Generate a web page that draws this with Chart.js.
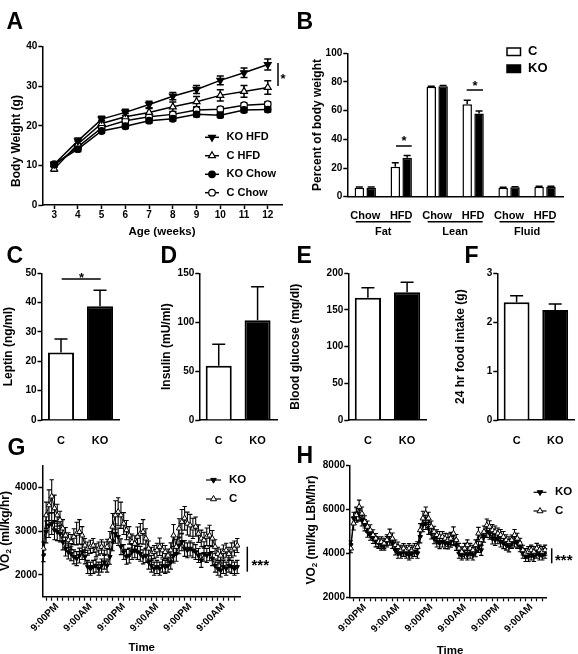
<!DOCTYPE html>
<html><head><meta charset="utf-8">
<script src="https://cdn.jsdelivr.net/npm/chart.js"></script>
<style>
html,body{margin:0;padding:0;background:#fff;}
#wrap{position:relative;width:578px;height:654px;overflow:hidden;background:#fff;}
canvas{position:absolute;left:0;top:0;}
</style></head><body><div id="wrap">
<canvas id="cA" width="578" height="654"></canvas>
<canvas id="cB" width="578" height="654"></canvas>
<canvas id="cC" width="578" height="654"></canvas>
<canvas id="cD" width="578" height="654"></canvas>
<canvas id="cE" width="578" height="654"></canvas>
<canvas id="cF" width="578" height="654"></canvas>
<canvas id="cG" width="578" height="654"></canvas>
<canvas id="cH" width="578" height="654"></canvas>
</div>
<script>
// ---------- DATA ----------
// Panel A: body weight (g)
const weeks = [3,4,5,6,7,8,9,10,11,12];
const koHfd     = [10.3,16.2,21.7,23.4,25.4,27.5,29.2,31.5,33.4,35.5];
const koHfdErr  = [0.6,0.7,0.7,0.8,0.8,0.9,1.0,1.1,1.2,1.4];
const cHfd      = [9.1,15.4,20.6,22.3,23.4,24.8,26.1,27.7,28.7,29.7];
const cHfdErr   = [0.6,0.8,0.8,0.9,1.0,1.2,1.3,1.4,1.5,1.7];
const koChow    = [10.3,14.1,18.7,19.9,21.3,21.8,22.9,22.7,24.0,24.1];
const koChowErr = [0.5,0.6,0.6,0.6,0.6,0.6,0.6,0.6,0.6,0.6];
const cChow     = [10.1,14.7,19.5,21.3,22.3,22.9,24.0,24.2,25.2,25.5];
const cChowErr  = [0.5,0.6,0.6,0.6,0.6,0.6,0.6,0.6,0.6,0.6];
const weekTicks = [3,4,5,6,7,8,9,10,11,12];

// Panel B: body composition (% body weight)
const compCats   = ['Chow','HFD','Chow','HFD','Chow','HFD'];
const compGroups = ['Fat','Lean','Fluid'];
const compC      = [6.3,20.9,76.7,64.4,6.3,7.0];
const compCErr   = [0.4,2.8,0.4,2.8,0.3,0.3];
const compKO     = [6.3,27.2,77.0,58.1,6.6,7.0];
const compKOErr  = [0.4,1.6,0.5,1.6,0.3,0.3];

// Panels C-F
const genotypes  = ['C','KO'];
const leptin     = [23.0,38.8];  const leptinErr  = [4.6,5.4];
const insulin    = [55.5,102.0]; const insulinErr = [21.9,34.2];
const glucose    = [166.7,174.0]; const glucoseErr = [13.6,13.7];
const food       = [2.41,2.25];  const foodErr    = [0.13,0.12];

// Panels G-H: hourly VO2
const hours = Array.from({length:71},(_,i)=>i); // hour index, 0 = 4:00PM
const timeLabels = {5:'9:00PM',17:'9:00AM',29:'9:00PM',41:'9:00AM',53:'9:00PM',65:'9:00AM'};
const vo2C = [2600,3360,3590,3790,3520,3360,3250,3060,2900,2790,
  2750,2870,2940,2980,2900,2670,2600,2640,2670,2560,
  2600,2640,2600,2640,2790,3100,3360,3440,3360,3170,
  3020,2900,2750,2710,2870,2940,2980,2830,2600,2480,
  2520,2560,2640,2560,2520,2440,2560,2900,2640,3060,
  3210,3290,3170,3130,3060,3100,2940,2830,2790,2870,
  2900,2830,2640,2480,2440,2520,2560,2480,2560,2600,2670];
const vo2CErr = [150,300,350,380,300,250,200,200,180,170,
  170,180,260,280,200,160,150,150,160,150,
  150,160,150,170,200,300,330,320,300,250,
  220,200,180,180,220,230,280,220,170,150,
  150,160,200,160,150,150,170,250,170,220,
  280,270,260,250,230,220,200,190,180,200,
  230,180,160,150,150,160,160,150,170,170,160];
const vo2KO = [2450,2980,3130,3170,3020,2980,2940,2750,2600,2520,
  2480,2410,2370,2440,2520,2410,2180,2140,2180,2210,
  2140,2210,2290,2210,2410,2750,2940,2870,2640,2520,
  2410,2440,2520,2560,2520,2480,2410,2440,2290,2210,
  2140,2180,2140,2210,2180,2210,2290,2440,2480,2670,
  2750,2600,2560,2600,2560,2520,2440,2330,2480,2440,
  2480,2370,2210,2140,2100,2180,2140,2210,2180,2140,2180];
const vo2KOErr = [150,250,280,250,220,200,190,180,170,160,
  160,160,160,170,170,160,150,150,150,150,
  150,150,160,150,170,200,220,200,180,170,
  170,170,170,170,170,170,160,160,160,150,
  150,150,150,150,150,150,160,170,170,190,
  200,180,170,170,170,170,160,160,170,160,
  160,160,150,150,150,150,150,150,150,150,150];
const lbmC = [4230,5370,5750,6130,5820,5440,5220,5060,4840,4680,
  4530,4530,4460,4610,4840,4680,4380,4300,4150,4230,
  4150,4230,4150,4230,4300,5060,5600,5820,5600,5220,
  4990,4840,4760,4760,4680,4610,4680,4910,4610,4230,
  4080,4230,4380,4230,4150,4380,4910,4610,4990,5290,
  5220,5060,4990,4910,4840,4760,4610,4530,4610,4840,
  4680,4460,4150,4000,4080,4150,4080,4230,4150,4080,4150];
const lbmCErr = [200,300,330,300,300,280,260,250,240,230,
  230,230,230,240,270,250,230,220,220,220,
  220,220,220,220,230,300,320,300,280,260,
  250,240,240,240,240,280,280,300,250,230,
  220,230,240,230,220,240,280,250,260,280,
  270,260,260,250,250,240,240,230,230,250,
  240,230,220,220,230,230,230,230,230,230,230];
const lbmKO = [4380,5600,5820,5750,5520,5290,4990,4840,4680,4530,
  4460,4380,4380,4530,4610,4460,4150,4000,4000,4080,
  4000,3920,4000,4080,4000,4760,5290,5370,5140,4910,
  4680,4530,4460,4530,4460,4460,4530,4610,4380,4000,
  3920,4000,3920,4000,3920,4080,4300,4150,4760,4990,
  4910,4680,4610,4680,4530,4460,4380,4300,4460,4530,
  4460,4300,4000,3850,3850,3920,3850,4000,3920,3920,4000];
const lbmKOErr = [200,280,300,280,270,260,250,240,230,230,
  230,230,230,240,240,230,220,220,220,220,
  220,220,220,220,220,280,300,280,270,250,
  240,240,240,240,240,250,250,260,240,220,
  220,220,220,220,220,230,250,240,250,260,
  260,250,250,240,240,240,230,230,230,240,
  230,220,220,220,220,220,220,220,220,220,220];

// ---------- HELPERS ----------
const FONT = "'Liberation Sans', Arial, Helvetica, sans-serif";
Chart.defaults.font.family = FONT;
Chart.defaults.font.weight = 'bold';
Chart.defaults.color = '#000';
Chart.defaults.animation = false;
Chart.defaults.plugins.legend.display = false;
Chart.defaults.plugins.tooltip.enabled = false;

function T(ctx, s, x, y, o) {
  o = o || {};
  ctx.save();
  ctx.font = 'bold ' + (o.size || 12) + 'px ' + FONT;
  ctx.fillStyle = '#000';
  ctx.textAlign = o.align || 'center';
  ctx.textBaseline = o.base || 'middle';
  ctx.translate(x, y);
  if (o.rot) ctx.rotate(o.rot);
  ctx.fillText(s, 0, 0);
  ctx.restore();
}
function rich(ctx, parts, x, y, rot) {
  ctx.save();
  ctx.translate(x, y);
  if (rot) ctx.rotate(rot);
  ctx.fillStyle = '#000';
  ctx.textBaseline = 'middle';
  ctx.textAlign = 'left';
  let w = 0;
  parts.forEach(p => { ctx.font = 'bold ' + p.size + 'px ' + FONT; p.w = ctx.measureText(p.t).width; w += p.w; });
  let cx = -w / 2;
  parts.forEach(p => { ctx.font = 'bold ' + p.size + 'px ' + FONT; ctx.fillText(p.t, cx, p.dy || 0); cx += p.w; });
  ctx.restore();
}
function L(ctx, x1, y1, x2, y2, w) {
  ctx.save(); ctx.strokeStyle = '#000'; ctx.lineWidth = w || 1.5;
  ctx.beginPath(); ctx.moveTo(x1, y1); ctx.lineTo(x2, y2); ctx.stroke(); ctx.restore();
}
function mark(ctx, style, x, y, r, fill, rot, bw) {
  ctx.save(); ctx.beginPath();
  if (style === 'circle') ctx.arc(x, y, r, 0, 2 * Math.PI);
  else {
    let a = (rot || 0) * Math.PI / 180;
    for (let k = 0; k < 3; k++) {
      const px = x + Math.sin(a) * r, py = y - Math.cos(a) * r;
      if (k) ctx.lineTo(px, py); else ctx.moveTo(px, py);
      a += 2 * Math.PI / 3;
    }
    ctx.closePath();
  }
  ctx.fillStyle = fill; ctx.fill();
  ctx.lineWidth = bw || 1.2; ctx.strokeStyle = '#000'; ctx.stroke();
  ctx.restore();
}
function drawErr(chart) {
  const ctx = chart.ctx;
  chart.data.datasets.forEach((ds, i) => {
    if (!ds.errors) return;
    const meta = chart.getDatasetMeta(i);
    const ys = chart.scales[meta.yAxisID];
    ctx.save(); ctx.strokeStyle = '#000'; ctx.lineWidth = ds.errLineWidth || 1.5;
    ctx.beginPath();
    meta.data.forEach((el, j) => {
      const raw = ds.data[j];
      const v = (typeof raw === 'object') ? raw.y : raw;
      const e = ds.errors[j], x = el.x, cap = ds.errCap || 4;
      const y0 = ys.getPixelForValue(v);
      const dirs = ds.errDir === 'up' ? [1] : [1, -1];
      dirs.forEach(d => {
        const y1 = ys.getPixelForValue(v + d * e);
        ctx.moveTo(x, y0); ctx.lineTo(x, y1);
        ctx.moveTo(x - cap, y1); ctx.lineTo(x + cap, y1);
      });
    });
    ctx.stroke(); ctx.restore();
  });
}
const errorBars = {
  id: 'errorBars',
  beforeDatasetsDraw(chart) { if (chart.config.type === 'line') drawErr(chart); },
  afterDatasetsDraw(chart) { if (chart.config.type !== 'line') drawErr(chart); }
};

const YW = 30, XH = 30, XH_TIME = 52;
function pad(Lx, Rx, Tx, Bx, xh) {
  return { left: Lx - YW, right: 578 - Rx, top: Tx, bottom: 654 - Bx - (xh || XH) };
}
const GRID = { display: true, drawOnChartArea: false, drawTicks: true, tickLength: 4, tickWidth: 1.5, tickColor: '#000', color: '#000' };
const BORDER = { display: true, color: '#000', width: 1.5 };
function yAxis(min, max, ticks) {
  return {
    type: 'linear', min: min, max: max,
    afterBuildTicks: s => { s.ticks = ticks.map(v => ({ value: v })); },
    afterFit: s => { s.width = YW; },
    grid: GRID, border: BORDER,
    ticks: { font: { size: 10, weight: 'bold' }, color: '#000', padding: 1, callback: v => String(v) }
  };
}
function catAxis(padding) {
  return {
    type: 'category', offset: true,
    afterFit: s => { s.height = XH; },
    grid: { display: false }, border: BORDER,
    ticks: { font: { size: 11, weight: 'bold' }, color: '#000', padding: padding }
  };
}
function timeAxis(min, max) {
  const tk = []; for (let h = 1; h <= 69; h += 2) tk.push(h);
  return {
    type: 'linear', min: min, max: max,
    afterBuildTicks: s => { s.ticks = tk.map(v => ({ value: v })); },
    afterFit: s => { s.height = XH_TIME; },
    grid: Object.assign({}, GRID, { tickLength: 4, tickWidth: 1.2 }), border: BORDER,
    ticks: { font: { size: 10, weight: 'bold' }, color: '#000', padding: 0, autoSkip: false,
      minRotation: 45, maxRotation: 45, callback: v => timeLabels[v] || '' }
  };
}
function ov(fn) { return { id: 'ov', afterDraw(chart) { fn(chart.ctx, chart); } }; }
const R90 = -Math.PI / 2;
const LET = 23;

// ---------- A ----------
new Chart(document.getElementById('cA'), {
  type: 'line',
  data: { datasets: [
    { data: weeks.map((w, i) => ({ x: w, y: koHfd[i] })), errors: koHfdErr, errCap: 3.5,
      borderColor: '#000', borderWidth: 1.5, pointStyle: 'triangle', pointRotation: 180, pointRadius: 4,
      pointBackgroundColor: '#000', pointBorderColor: '#000', pointBorderWidth: 1.2 },
    { data: weeks.map((w, i) => ({ x: w, y: cHfd[i] })), errors: cHfdErr, errCap: 3.5,
      borderColor: '#000', borderWidth: 1.5, pointStyle: 'triangle', pointRadius: 4,
      pointBackgroundColor: '#fff', pointBorderColor: '#000', pointBorderWidth: 1.2 },
    { data: weeks.map((w, i) => ({ x: w, y: koChow[i] })), errors: koChowErr, errCap: 3.5,
      borderColor: '#000', borderWidth: 1.5, pointStyle: 'circle', pointRadius: 3.3,
      pointBackgroundColor: '#000', pointBorderColor: '#000', pointBorderWidth: 1.2 },
    { data: weeks.map((w, i) => ({ x: w, y: cChow[i] })), errors: cChowErr, errCap: 3.5,
      borderColor: '#000', borderWidth: 1.5, pointStyle: 'circle', pointRadius: 3.3,
      pointBackgroundColor: '#fff', pointBorderColor: '#000', pointBorderWidth: 1.2 }
  ] },
  options: {
    responsive: false, devicePixelRatio: 1,
    layout: { padding: pad(42.3, 282, 46.7, 205) },
    scales: {
      x: { type: 'linear', min: 2.5, max: 12.6,
        afterBuildTicks: s => { s.ticks = weekTicks.map(v => ({ value: v })); },
        afterFit: s => { s.height = XH; }, grid: GRID, border: BORDER,
        ticks: { font: { size: 10, weight: 'bold' }, color: '#000', padding: 0, callback: v => String(v) } },
      y: yAxis(0, 40, [0, 10, 20, 30, 40])
    }
  },
  plugins: [errorBars, ov((ctx) => {
    T(ctx, 'A', 6.5, 28.5, { size: LET, align: 'left', base: 'alphabetic' });
    T(ctx, 'Body Weight (g)', 17, 141, { rot: R90 });
    T(ctx, 'Age (weeks)', 162, 232, { size: 11.5 });
    const items = [['KO HFD', 'triangle', 180, '#000', 137.3], ['C HFD', 'triangle', 0, '#fff', 155.7],
                   ['KO Chow', 'circle', 0, '#000', 174.3], ['C Chow', 'circle', 0, '#fff', 192.7]];
    items.forEach(it => {
      L(ctx, 205, it[4], 219, it[4], 1.5);
      mark(ctx, it[1], 212, it[4], it[1] === 'circle' ? 3.3 : 4, it[3], it[2]);
      T(ctx, it[0], 226.5, it[4], { size: 11, align: 'left' });
    });
    L(ctx, 278, 63, 278, 86, 1.5);
    T(ctx, '*', 283, 82.5, { size: 13, base: 'alphabetic' });
  })]
});

// ---------- B ----------
new Chart(document.getElementById('cB'), {
  type: 'bar',
  data: { labels: compCats, datasets: [
    { data: compC, errors: compCErr, errDir: 'up', errCap: 3.5, backgroundColor: '#fff', borderColor: '#000', borderWidth: 1.5,
      categoryPercentage: 0.66, barPercentage: 0.8 },
    { data: compKO, errors: compKOErr, errDir: 'up', errCap: 3.5, backgroundColor: '#000', borderColor: '#000', borderWidth: 1.5,
      categoryPercentage: 0.66, barPercentage: 0.8 }
  ] },
  options: {
    responsive: false, devicePixelRatio: 1,
    layout: { padding: pad(347.3, 563, 53.3, 196.7) },
    scales: { x: catAxis(5), y: yAxis(0, 100, [0, 20, 40, 60, 80, 100]) }
  },
  plugins: [errorBars, ov((ctx, chart) => {
    T(ctx, 'B', 296.5, 28.5, { size: LET, align: 'left', base: 'alphabetic' });
    T(ctx, 'Percent of body weight', 318, 125, { rot: R90 });
    const xs = chart.scales.x;
    compGroups.forEach((g, k) => {
      const c = (xs.getPixelForValue(2 * k) + xs.getPixelForValue(2 * k + 1)) / 2;
      L(ctx, c - 27.5, 221.7, c + 27.5, 221.7, 1.5);
      T(ctx, g, c, 232, { size: 11 });
    });
    ctx.save(); ctx.lineWidth = 1.5; ctx.strokeStyle = '#000';
    ctx.fillStyle = '#fff'; ctx.fillRect(507, 48, 13.5, 7.5); ctx.strokeRect(507, 48, 13.5, 7.5);
    ctx.fillStyle = '#000'; ctx.fillRect(507, 65, 13.5, 7.5); ctx.strokeRect(507, 65, 13.5, 7.5);
    ctx.restore();
    T(ctx, 'C', 528, 51.8, { size: 13, align: 'left' });
    T(ctx, 'KO', 528, 68.8, { size: 13, align: 'left' });
    L(ctx, 396, 146, 411.7, 146, 1.5);
    T(ctx, '*', 404, 145, { size: 13, base: 'alphabetic' });
    L(ctx, 466.7, 90, 483, 90, 1.5);
    T(ctx, '*', 475, 89.5, { size: 13, base: 'alphabetic' });
  })]
});

// ---------- C-F ----------
function simpleBar(id, vals, errs, Lx, Rx, yMax, yTicks, extra) {
  return new Chart(document.getElementById(id), {
    type: 'bar',
    data: { labels: genotypes, datasets: [
      { data: vals, errors: errs, errDir: 'up', errCap: 6.5, backgroundColor: ['#fff', '#000'], borderColor: '#000',
        borderWidth: 2, categoryPercentage: 0.67, barPercentage: 1.0 }
    ] },
    options: {
      responsive: false, devicePixelRatio: 1,
      layout: { padding: pad(Lx, Rx, 273.3, 420) },
      scales: { x: catAxis(6), y: yAxis(0, yMax, yTicks) }
    },
    plugins: [errorBars, ov(extra)]
  });
}
simpleBar('cC', leptin, leptinErr, 41.5, 119.5, 50, [0, 10, 20, 30, 40, 50], (ctx) => {
  T(ctx, 'C', 6.5, 263.3, { size: LET, align: 'left', base: 'alphabetic' });
  T(ctx, 'Leptin (ng/ml)', 9, 346.7, { rot: R90 });
  L(ctx, 61.7, 279, 100.7, 279, 1.5);
  T(ctx, '*', 81.5, 282.4, { size: 13, base: 'alphabetic' });
});
simpleBar('cD', insulin, insulinErr, 199.3, 277, 150, [0, 50, 100, 150], (ctx) => {
  T(ctx, 'D', 160.5, 263.3, { size: LET, align: 'left', base: 'alphabetic' });
  T(ctx, 'Insulin (mU/ml)', 166.7, 346.7, { rot: R90 });
});
simpleBar('cE', glucose, glucoseErr, 348.3, 426.7, 200, [0, 50, 100, 150, 200], (ctx) => {
  T(ctx, 'E', 296.5, 263.3, { size: LET, align: 'left', base: 'alphabetic' });
  T(ctx, 'Blood glucose (mg/dl)', 295.5, 346.7, { rot: R90 });
});
simpleBar('cF', food, foodErr, 497.3, 574.5, 3, [0, 1, 2, 3], (ctx) => {
  T(ctx, 'F', 464.5, 263.3, { size: LET, align: 'left', base: 'alphabetic' });
  T(ctx, '24 hr food intake (g)', 461, 346.7, { rot: R90 });
});

// ---------- G-H ----------
function vo2Chart(id, cVals, cErr, koVals, koErr, box, yMin, yMax, yTicks, extra) {
  return new Chart(document.getElementById(id), {
    type: 'line',
    data: { datasets: [
      { data: hours.map((h, i) => ({ x: h, y: cVals[i] })), errors: cErr, errCap: 2.2, errLineWidth: 1.1,
        borderColor: '#000', borderWidth: 1, pointStyle: 'triangle', pointRadius: 3.2,
        pointBackgroundColor: '#fff', pointBorderColor: '#000', pointBorderWidth: 1 },
      { data: hours.map((h, i) => ({ x: h, y: koVals[i] })), errors: koErr, errCap: 2.2, errLineWidth: 1.1,
        borderColor: '#000', borderWidth: 1, pointStyle: 'triangle', pointRotation: 180, pointRadius: 2.6,
        pointBackgroundColor: '#000', pointBorderColor: '#000', pointBorderWidth: 1 }
    ] },
    options: {
      responsive: false, devicePixelRatio: 1,
      layout: { padding: pad(box[0], box[1], box[2], box[3], XH_TIME) },
      scales: { x: timeAxis(box[4], box[5]), y: yAxis(yMin, yMax, yTicks) }
    },
    plugins: [errorBars, ov(extra)]
  });
}
function vLegend(ctx, x0, x1, xm, xt, y1, y2) {
  L(ctx, x0, y1, x1, y1, 1.2); mark(ctx, 'triangle', xm, y1, 3.2, '#000', 180, 1);
  T(ctx, 'KO', xt, y1, { size: 11.5, align: 'left' });
  L(ctx, x0, y2, x1, y2, 1.2); mark(ctx, 'triangle', xm, y2, 3.5, '#fff', 0, 1);
  T(ctx, 'C', xt, y2, { size: 11.5, align: 'left' });
}
vo2Chart('cG', vo2C, vo2CErr, vo2KO, vo2KOErr, [42.3, 240, 465.3, 596.7, -0.4, 71], 1500, 4500, [2000, 3000, 4000], (ctx) => {
  T(ctx, 'G', 7.5, 455, { size: LET, align: 'left', base: 'alphabetic' });
  rich(ctx, [{ t: 'VO', size: 12 }, { t: '2', size: 8, dy: 3 }, { t: ' (ml/kg/hr)', size: 12 }], 6, 531, R90);
  vLegend(ctx, 206, 221, 213.5, 229, 480, 499);
  L(ctx, 247.3, 546.7, 247.3, 571.7, 1.5);
  T(ctx, '***', 251.5, 569.5, { size: 15, align: 'left', base: 'alphabetic' });
  T(ctx, 'Time', 141.7, 650.7, { size: 11.5, base: 'alphabetic' });
});
vo2Chart('cH', lbmC, lbmCErr, lbmKO, lbmKOErr, [350, 546.7, 465.7, 597.3, -0.3, 70.6], 2000, 8000, [2000, 4000, 6000, 8000], (ctx) => {
  T(ctx, 'H', 296.5, 463.3, { size: LET, align: 'left', base: 'alphabetic' });
  rich(ctx, [{ t: 'VO', size: 12 }, { t: '2', size: 8, dy: 3 }, { t: ' (ml/kg LBM/hr)', size: 12 }], 311.7, 530, R90);
  vLegend(ctx, 533.5, 546.5, 540, 555, 492.3, 511);
  L(ctx, 551.7, 548.3, 551.7, 563.3, 1.5);
  T(ctx, '***', 555, 564.5, { size: 15, align: 'left', base: 'alphabetic' });
  T(ctx, 'Time', 450, 654, { size: 11.5, base: 'alphabetic' });
});
</script></body></html>
